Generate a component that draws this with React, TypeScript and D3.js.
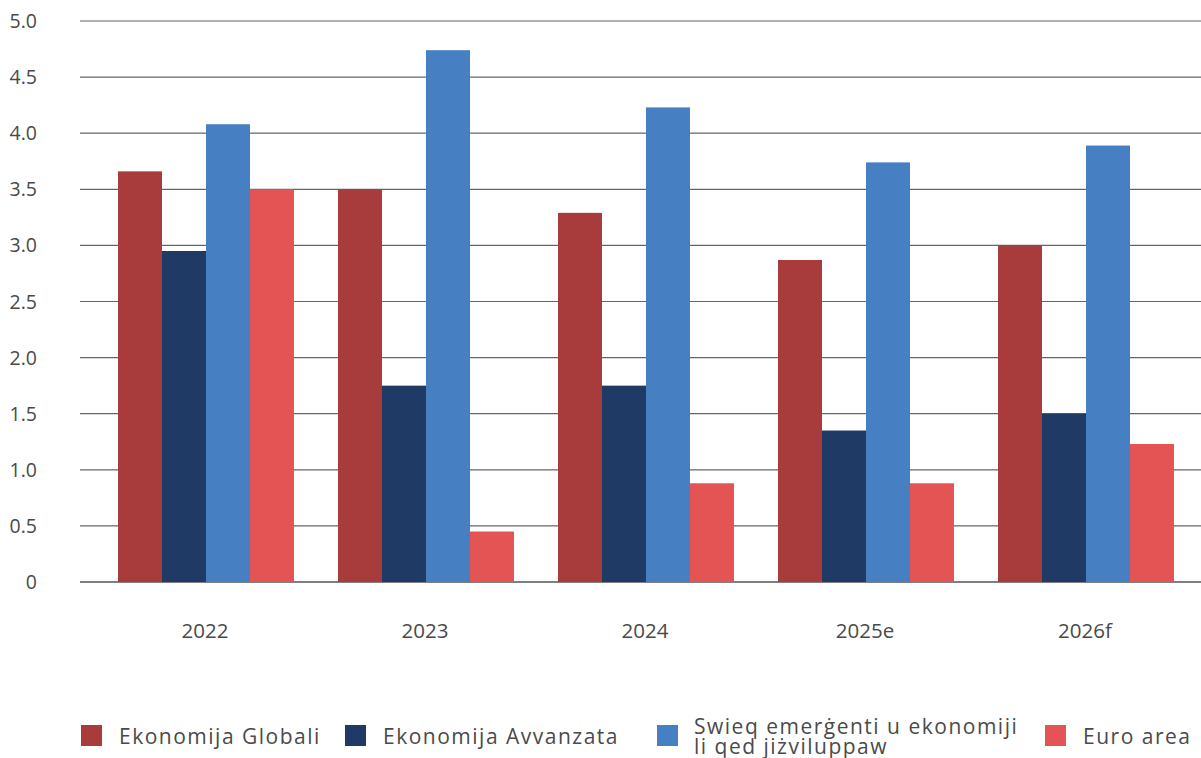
import React from 'react';
import * as d3 from 'd3';

const years = ['2022', '2023', '2024', '2025e', '2026f'];
const seriesNames = ['Ekonomija Globali', 'Ekonomija Avvanzata', 'Swieq emerġenti u ekonomiji li qed jiżviluppaw', 'Euro area'];
const globali = [3.66, 3.5, 3.29, 2.87, 3.0];
const avvanzata = [2.95, 1.75, 1.75, 1.35, 1.5];
const emergenti = [4.08, 4.74, 4.23, 3.74, 3.89];
const euroArea = [3.5, 0.45, 0.88, 0.88, 1.23];
const yTicks = [0, 0.5, 1, 1.5, 2, 2.5, 3, 3.5, 4, 4.5, 5];
const colors = ['#A83C3C', '#1F3A64', '#4680C3', '#E55455'];

const series = [globali, avvanzata, emergenti, euroArea];

const W = 1201;
const H = 758;
const font = '"Open Sans", Lato, sans-serif';
const textColor = '#4a4a4a';

export default function App() {
  const y = d3.scaleLinear().domain([0, 5]).range([582, 21]);
  const x0 = d3.scaleBand<string>().domain(years).range([96, 1196]).paddingInner(0.2).paddingOuter(0.1);
  const x1 = d3.scaleBand<number>().domain(d3.range(series.length)).range([0, x0.bandwidth()]);

  // legend: square left edges, names split in lines
  const legendX = [81, 345, 657, 1045];
  const legendLines = [[seriesNames[0]], [seriesNames[1]], ['Swieq emerġenti u ekonomiji', 'li qed jiżviluppaw'], [seriesNames[3]]];

  return (
    <svg width={W} height={H} style={{ position: 'absolute', left: 0, top: 0, background: '#fff' }}>
      {yTicks.map(t => (
        <g key={t}>
          <line x1={80} x2={1201} y1={y(t)} y2={y(t)} stroke={t === 0 ? '#555' : '#666'} strokeWidth={t === 0 ? 1.5 : 1.2} />
          <text x={37} y={y(t) + 7} textAnchor="end" fontSize={19.5} fill={textColor} fontFamily={font}>
            {t === 0 ? '0' : d3.format('.1f')(t)}
          </text>
        </g>
      ))}
      {years.map((yr, i) => (
        <g key={yr} transform={`translate(${x0(yr)},0)`}>
          {series.map((s, j) => (
            <rect key={j} x={x1(j)} width={x1.bandwidth()} y={y(s[i])} height={y(0) - y(s[i])} fill={colors[j]} />
          ))}
          <text x={x0.bandwidth() / 2 - 1} y={638} textAnchor="middle" fontSize={20.5} fill={textColor} fontFamily={font}>{yr}</text>
        </g>
      ))}
      {legendLines.map((lines, j) => (
        <g key={j} transform={`translate(${legendX[j]},725)`}>
          <rect width={21} height={21} fill={colors[j]} />
          {lines.length === 1 ? (
            <text x={38} y={18.5} fontSize={21} letterSpacing={1.5} fill={textColor} fontFamily={font}>{lines[0]}</text>
          ) : (
            lines.map((l, k) => (
              <text key={k} x={37} y={9 + k * 20} fontSize={21} letterSpacing={1.5} fill={textColor} fontFamily={font}>{l}</text>
            ))
          )}
        </g>
      ))}
    </svg>
  );
}
